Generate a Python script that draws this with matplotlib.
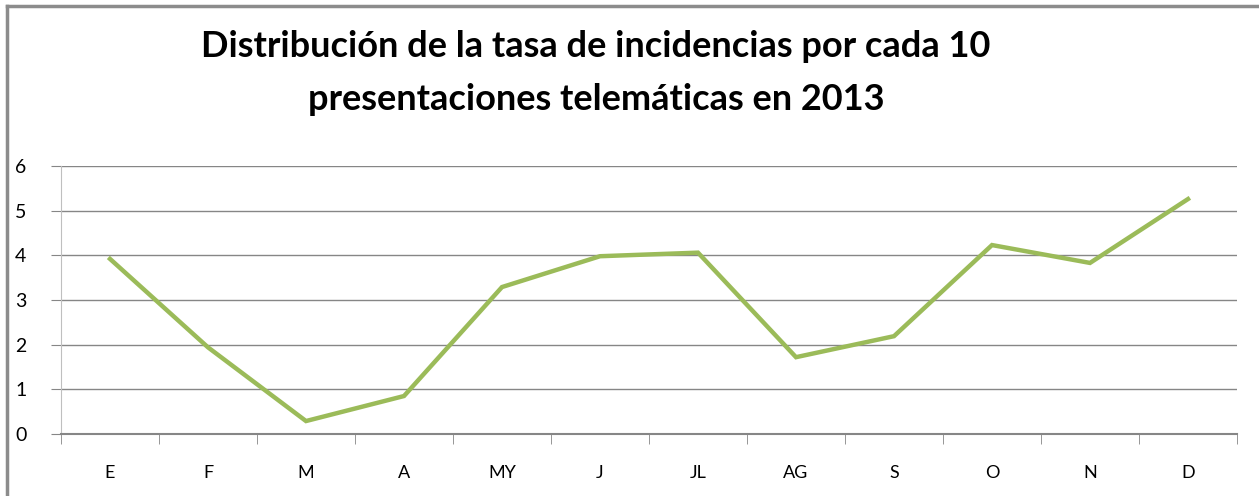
import matplotlib
matplotlib.use("Agg")
import matplotlib.pyplot as plt
from matplotlib.lines import Line2D
import numpy as np

# monthly values
months = ["E", "F", "M", "A", "MY", "J", "JL", "AG", "S", "O", "N", "D"]
tasa = [3.92, 1.94, 0.29, 0.85, 3.29, 3.98, 4.06, 1.72, 2.19, 4.23, 3.83, 5.26]
y_ticks = [0, 1, 2, 3, 4, 5, 6]

TITLE = "Distribución de la tasa de incidencias por cada 10\npresentaciones telemáticas en 2013"
LINE_COLOR = "#9BBB59"
GRID_COLOR = "#868686"

plt.rcParams['font.family'] = ['Lato', 'DejaVu Sans']

fig = plt.figure(figsize=(12.59, 4.96), dpi=100)
ax = fig.add_axes([61 / 1259, 62 / 496, 1176 / 1259, 268 / 496])

x = np.arange(len(months))
ax.plot(x, tasa, color=LINE_COLOR, linewidth=3.2, solid_joinstyle='miter')

ax.set_xlim(-0.5, len(months) - 0.5)
ax.set_ylim(0, 6)
ax.set_yticks(y_ticks)
ax.set_xticks(x)
ax.set_xticklabels(months, fontsize=13)
ax.set_xticks(np.arange(len(months) + 1) - 0.5, minor=True)
ax.tick_params(axis='x', which='major', length=0, pad=22)
ax.tick_params(axis='x', which='minor', length=7, color=GRID_COLOR, direction='out')
ax.tick_params(axis='y', length=7, color=GRID_COLOR, direction='out', labelsize=14, pad=18)

ax.yaxis.grid(True, color=GRID_COLOR, linewidth=1.0)
ax.set_axisbelow(True)
for side in ['top', 'right']:
    ax.spines[side].set_visible(False)
ax.spines['left'].set_color('#BFBFBF')
ax.spines['bottom'].set_color(GRID_COLOR)
ax.spines['bottom'].set_linewidth(1.5)

fig.text(596 / 1259, 1 - 73 / 496, TITLE, ha='center', va='center',
         fontsize=26, fontweight='bold', linespacing=1.75)

# outer chart frame (only left and top edges are visible in the crop)
fig.add_artist(Line2D([7 / 1259, 7 / 1259], [0, 1 - 6 / 496], color='#8C8C8C', linewidth=2.5))
fig.add_artist(Line2D([7 / 1259, 1], [1 - 6 / 496, 1 - 6 / 496], color='#8C8C8C', linewidth=2.5))

fig.savefig("out.png", dpi=100)
